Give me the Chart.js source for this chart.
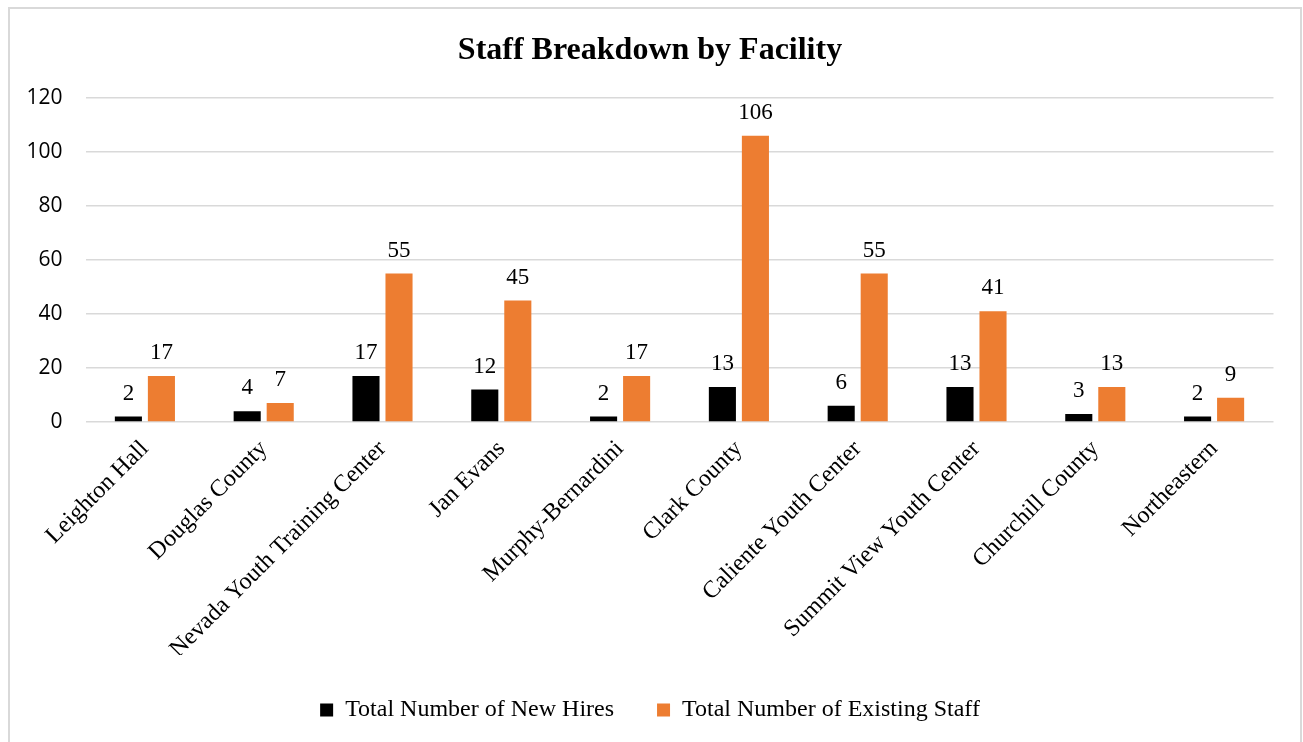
<!DOCTYPE html>
<html>
<head>
<meta charset="utf-8">
<script src="https://cdn.jsdelivr.net/npm/chart.js@4.4.0/dist/chart.umd.min.js"></script>
<style>
    html, body { margin: 0; padding: 0; background: #fff; overflow: hidden; width: 1303px; height: 742px; }
    #frame { position: absolute; left: 8px; top: 7px; width: 1290px; height: 760px; border: 2px solid #d9d9d9; }
    #wrap { position: absolute; left: 9.5px; top: 0; width: 1303px; height: 732px; }
</style>
</head>
<body>
<div id="frame"></div>
<div id="wrap"><canvas id="chart"></canvas></div>
<script>
// chart values
const facilities = ['Leighton Hall', 'Douglas County', 'Nevada Youth Training Center', 'Jan Evans',
    'Murphy-Bernardini', 'Clark County', 'Caliente Youth Center', 'Summit View Youth Center',
    'Churchill County', 'Northeastern'];
const newHires = [2, 4, 17, 12, 2, 13, 6, 13, 3, 2];
const existingStaff = [17, 7, 55, 45, 17, 106, 55, 41, 13, 9];
const yTicks = [0, 20, 40, 60, 80, 100, 120];

const serif = '"Liberation Serif", "Times New Roman", serif';

// draws the value above each bar
const barValues = {
    id: 'barValues',
    afterDatasetsDraw: function(chart) {
        const ctx = chart.ctx;
        ctx.save();
        ctx.font = '23px ' + serif;
        ctx.fillStyle = '#000';
        ctx.textAlign = 'center';
        ctx.textBaseline = 'alphabetic';
        chart.data.datasets.forEach(function(ds, i) {
            chart.getDatasetMeta(i).data.forEach(function(bar, j) {
                ctx.fillText(String(ds.data[j]), bar.x, bar.y - 17);
            });
        });
        ctx.restore();
    }
};

new Chart(document.getElementById('chart').getContext('2d'), {
    type: 'bar',
    data: {
        labels: facilities,
        datasets: [
            {
                label: 'Total Number of New Hires',
                data: newHires,
                backgroundColor: '#000000',
                categoryPercentage: 0.556,
                barPercentage: 0.82
            },
            {
                label: 'Total Number of Existing Staff',
                data: existingStaff,
                backgroundColor: '#ed7d31',
                categoryPercentage: 0.556,
                barPercentage: 0.82
            }
        ]
    },
    options: {
        responsive: true,
        maintainAspectRatio: false,
        animation: false,
        layout: { padding: { left: 16.5, right: 39.5, top: 0, bottom: 0 } },
        plugins: {
            title: {
                display: true,
                text: 'Staff Breakdown by Facility',
                color: '#000',
                font: { family: serif, size: 32, weight: 'bold' },
                padding: { top: 31.8, bottom: 27.8 }
            },
            legend: {
                position: 'bottom',
                labels: {
                    color: '#000',
                    font: { family: serif, size: 24 },
                    boxWidth: 13,
                    boxHeight: 13,
                    padding: 43
                }
            },
            tooltip: { enabled: false }
        },
        scales: {
            x: {
                grid: { display: false, drawTicks: false },
                border: { display: false },
                ticks: {
                    color: '#000',
                    font: { family: serif, size: 24 },
                    minRotation: 45,
                    maxRotation: 45,
                    padding: 13,
                    autoSkip: false
                },
                afterFit: function(scale) { scale.height = 233; }
            },
            y: {
                min: 0,
                max: 120,
                afterBuildTicks: function(scale) {
                    scale.ticks = yTicks.map(function(v) { return { value: v }; });
                },
                grid: { color: '#d9d9d9', lineWidth: 1.5, drawTicks: false },
                border: { display: false },
                ticks: {
                    color: '#000',
                    font: { family: '"Open Sans", sans-serif', size: 21 },
                    padding: 23
                },
                afterFit: function(scale) { scale.width = 59; }
            }
        }
    },
    plugins: [barValues]
});
</script>
</body>
</html>
